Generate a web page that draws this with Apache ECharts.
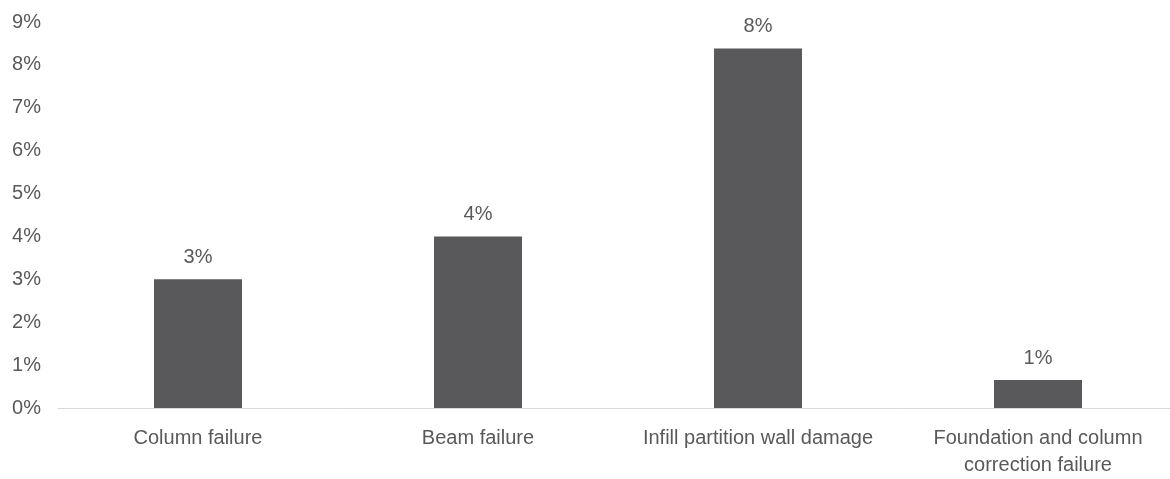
<!DOCTYPE html>
<html>
<head>
<meta charset="utf-8">
<script src="https://cdn.jsdelivr.net/npm/echarts@6/dist/echarts.min.js"></script>
<style>
	html, body { margin: 0; padding: 0; background: #fff; overflow: hidden; }
	#main { width: 1180px; height: 479px; }
</style>
</head>
<body>
<div id="main"></div>
<script>
const categories = [
	"Column failure",
	"Beam failure",
	"Infill partition wall damage",
	"Foundation and column\ncorrection failure",
];
const failureShare = [0.030, 0.040, 0.0838, 0.0065];
const yTicks = [0, 0.01, 0.02, 0.03, 0.04, 0.05, 0.06, 0.07, 0.08, 0.09];

const textColor = "#595959";
const fontFamily = "Liberation Sans, Arial, sans-serif";

const chart = echarts.init(document.getElementById("main"));

const option = {
	animation: false,
	grid: {
		left: 58,
		top: 22,
		right: 2,
		height: 390,
		containLabel: false,
	},
	xAxis: {
		type: "category",
		data: categories,
		axisLine: { lineStyle: { color: "#d9d9d9", width: 1 } },
		axisTick: { show: false },
		axisLabel: {
			color: textColor,
			fontSize: 20,
			fontFamily: fontFamily,
			lineHeight: 27,
			margin: 17,
			interval: 0,
		},
	},
	yAxis: {
		type: "value",
		min: yTicks[0],
		max: yTicks[yTicks.length - 1],
		interval: 0.01,
		splitLine: { show: false },
		axisLine: { show: false },
		axisTick: { show: false },
		axisLabel: {
			color: textColor,
			fontSize: 20,
			fontFamily: fontFamily,
			margin: 17,
			formatter: (v) => Math.round(v * 100) + "%",
		},
	},
	series: [
		{
			type: "bar",
			data: failureShare,
			barWidth: 88,
			itemStyle: { color: "#59595b" },
			label: {
				show: true,
				position: "top",
				distance: 12,
				color: textColor,
				fontSize: 20,
				fontFamily: fontFamily,
				formatter: (p) => Math.round(p.value * 100) + "%",
			},
		},
	],
};

chart.setOption(option);
</script>
</body>
</html>
